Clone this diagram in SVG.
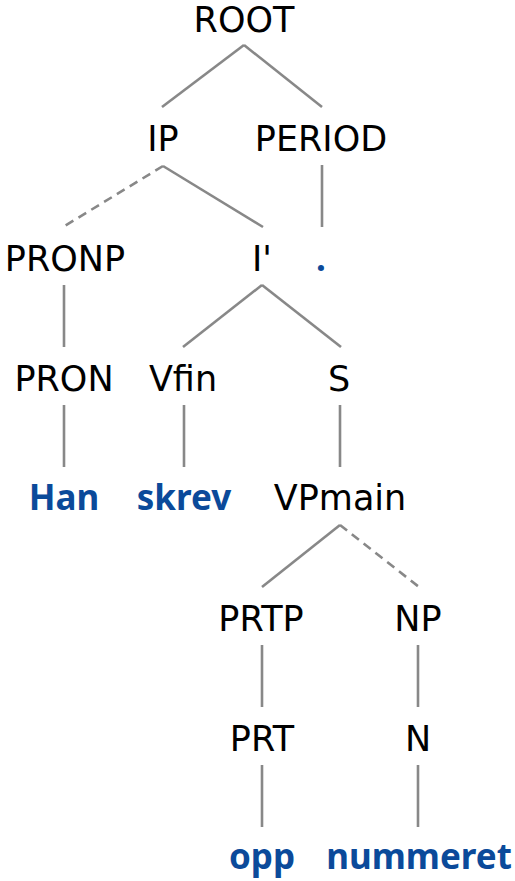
<svg xmlns="http://www.w3.org/2000/svg" width="515" height="881" viewBox="0 0 515 881">
<style>
.n{font-family:"DejaVu Sans",Verdana,sans-serif;font-size:35px;fill:#000;text-anchor:middle}
.w{font-family:"Noto Sans","DejaVu Sans",sans-serif;font-weight:bold;font-size:35px;fill:#0b4a9a;text-anchor:middle}
.e{stroke:#888;stroke-width:2.6;fill:none}
.d{stroke-dasharray:9,6}
</style>
<rect width="515" height="881" fill="#fff"/>
<g id="edges">
<line class="e" x1="244" y1="45" x2="162" y2="107"/>
<line class="e" x1="244" y1="45" x2="322" y2="107"/>
<line class="e d" x1="163" y1="166" x2="63" y2="227"/>
<line class="e" x1="163" y1="166" x2="263" y2="227"/>
<line class="e" x1="322" y1="165" x2="322" y2="227"/>
<line class="e" x1="64" y1="285" x2="64" y2="347"/>
<line class="e" x1="262" y1="285" x2="183" y2="347"/>
<line class="e" x1="262" y1="285" x2="341" y2="347"/>
<line class="e" x1="64" y1="405" x2="64" y2="467"/>
<line class="e" x1="184" y1="405" x2="184" y2="467"/>
<line class="e" x1="340" y1="405" x2="340" y2="467"/>
<line class="e" x1="340" y1="525" x2="262" y2="587"/>
<line class="e d" x1="340" y1="525" x2="419" y2="587"/>
<line class="e" x1="262" y1="645" x2="262" y2="707"/>
<line class="e" x1="418" y1="645" x2="418" y2="707"/>
<line class="e" x1="262" y1="765" x2="262" y2="827"/>
<line class="e" x1="418" y1="765" x2="418" y2="827"/>
</g>
<g id="ROOT"><text class="n" x="244" y="32">ROOT</text></g>
<g id="IP"><text class="n" x="163" y="151">IP</text></g>
<g id="PERIOD"><text class="n" x="321" y="151">PERIOD</text></g>
<g id="PRONP"><text class="n" x="65" y="271">PRONP</text></g>
<g id="Ibar"><text class="n" x="262" y="271">I'</text></g>
<g id="dot"><text class="w" x="321" y="271">.</text></g>
<g id="PRON"><text class="n" x="64" y="391">PRON</text></g>
<g id="Vfin"><text class="n" x="183" y="391">Vfin</text></g>
<g id="S"><text class="n" x="339" y="391">S</text></g>
<g id="Han"><text class="w" x="64" y="510">Han</text></g>
<g id="skrev"><text class="w" x="184" y="510">skrev</text></g>
<g id="VPmain"><text class="n" x="340" y="510">VPmain</text></g>
<g id="PRTP"><text class="n" x="261" y="631">PRTP</text></g>
<g id="NP"><text class="n" x="418" y="631">NP</text></g>
<g id="PRT"><text class="n" x="262" y="751">PRT</text></g>
<g id="N"><text class="n" x="418" y="751">N</text></g>
<g id="opp"><text class="w" x="262" y="869">opp</text></g>
<g id="nummeret"><text class="w" x="419" y="869">nummeret</text></g>
</svg>
